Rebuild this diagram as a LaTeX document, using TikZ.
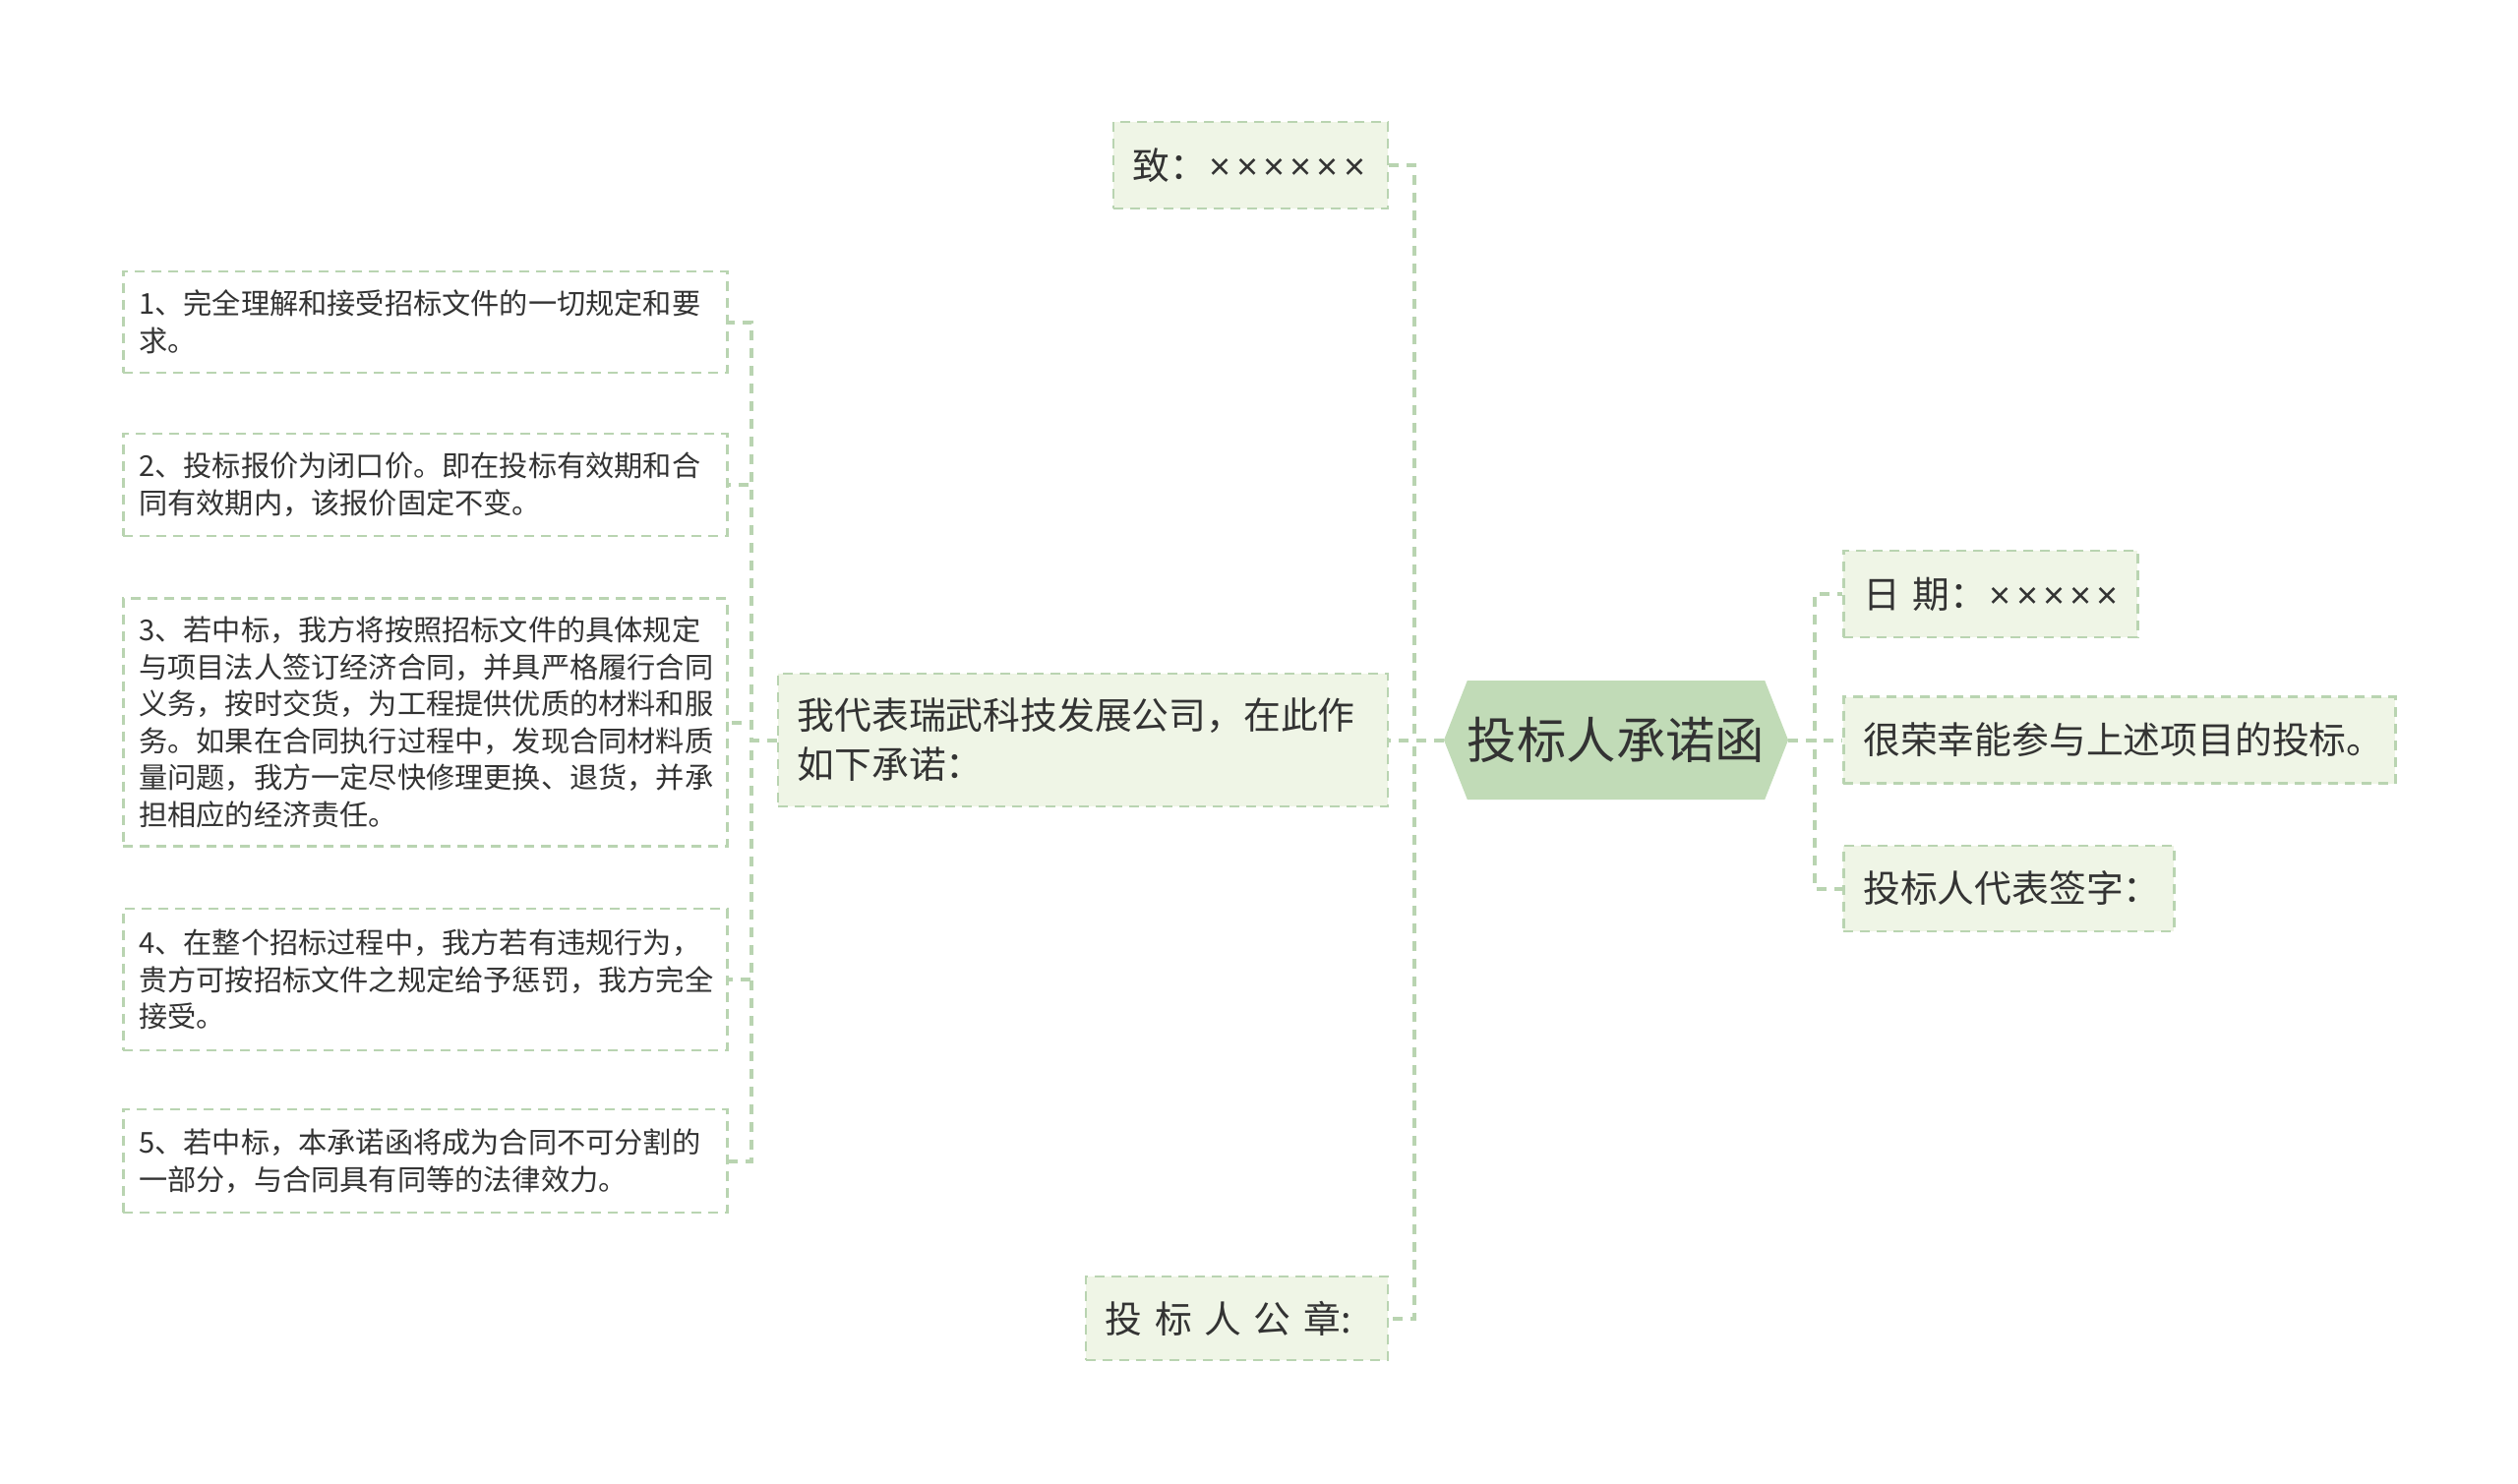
\documentclass[tikz,border=0pt]{standalone}
\usepackage{fontspec}
\newfontfamily\cjk{Noto Sans CJK SC}
\newfontfamily\latin{Liberation Sans}
\usepackage{tikz}
\usetikzlibrary{positioning, shapes.symbols}
\definecolor{linegreen}{HTML}{B9D4B1}
\definecolor{boxgreen}{HTML}{EFF5E6}
\definecolor{rootgreen}{HTML}{C1DBB7}
\definecolor{textgray}{HTML}{333333}

\newcommand{\xx}{\makebox[0.72em]{\latin ×}}

\tikzset{
	box/.style={draw=linegreen, fill=boxgreen, line width=2.5pt, dash pattern=on 10pt off 7pt, inner xsep=20pt, inner ysep=0pt, align=left, text=textgray, font=\cjk\fontsize{37.8}{50}\selectfont},
	leaf/.style={box, fill=white, inner xsep=16pt, text width=582pt, font=\cjk\fontsize{29.2}{37.5}\selectfont},
	link/.style={draw=linegreen, line width=4pt, dash pattern=on 10pt off 8pt},
}

\begin{document}
\begin{tikzpicture}[x=1pt, y=1pt]
	\useasboundingbox (0,0) rectangle (2560,-1509);

	\node[signal, signal to=east and west, signal pointer angle=137, fill=rootgreen, minimum width=348pt, minimum height=121pt, inner sep=0pt, text=textgray, font=\cjk\fontsize{50.4}{50.4}\selectfont] (root) at (1643,-752.5) {投标人承诺函};

	% left side
	\node[box, anchor=east, text width=239pt, minimum height=88pt] (zhi) at (1412,-168) {\mbox{致：\xx\xx\xx\xx\xx\xx}};
	\node[box, anchor=east, text width=580pt, minimum height=135pt] (wo) at (1412,-752.5) {我代表瑞武科技发展公司，在此作\\如下承诺：};
	\node[box, anchor=east, text width=267pt, minimum height=85pt] (gz) at (1412,-1340.5) {\mbox{投 标 人 公 章:}};

	% right side
	\node[box, anchor=west, text width=259pt, minimum height=88pt] (riqi) at (1873,-604) {\mbox{日 期：\xx\xx\xx\xx\xx}};
	\node[box, anchor=west, text width=521pt, minimum height=88pt] (hrx) at (1873,-752.5) {很荣幸能参与上述项目的投标。};
	\node[box, anchor=west, text width=296pt, minimum height=87pt] (qz) at (1873,-903.5) {投标人代表签字：};

	% items
	\node[leaf, anchor=west, minimum height=103pt] (t1) at (124,-327.5) {1、完全理解和接受招标文件的一切规定和要\\求。};
	\node[leaf, anchor=west, minimum height=104pt] (t2) at (124,-493) {2、投标报价为闭口价。即在投标有效期和合\\同有效期内，该报价固定不变。};
	\node[leaf, anchor=west, minimum height=252pt] (t3) at (124,-734.5) {3、若中标，我方将按照招标文件的具体规定\\与项目法人签订经济合同，并具严格履行合同\\义务，按时交货，为工程提供优质的材料和服\\务。如果在合同执行过程中，发现合同材料质\\量问题，我方一定尽快修理更换、退货，并承\\担相应的经济责任。};
	\node[leaf, anchor=west, minimum height=144pt] (t4) at (124,-996) {4、在整个招标过程中，我方若有违规行为，\\贵方可按招标文件之规定给予惩罚，我方完全\\接受。};
	\node[leaf, anchor=west, minimum height=105pt] (t5) at (124,-1180.5) {5、若中标，本承诺函将成为合同不可分割的\\一部分，与合同具有同等的法律效力。};

	\coordinate (lt) at (1438,0);
	\coordinate (rt) at (1845,0);
	\coordinate (pt) at (764,0);

	\draw[link] (root.west) -- (root.west -| lt) |- (zhi.east);
	\draw[link] (root.west) -- (wo.east);
	\draw[link] (root.west) -- (root.west -| lt) |- (gz.east);
	\draw[link] (root.east) -- (root.east -| rt) |- (riqi.west);
	\draw[link] (root.east) -- (hrx.west);
	\draw[link] (root.east) -- (root.east -| rt) |- (qz.west);
	\foreach \t in {t1,t2,t3,t4,t5}
		\draw[link] (wo.west) -- (wo.west -| pt) |- (\t.east);
\end{tikzpicture}
\end{document}
